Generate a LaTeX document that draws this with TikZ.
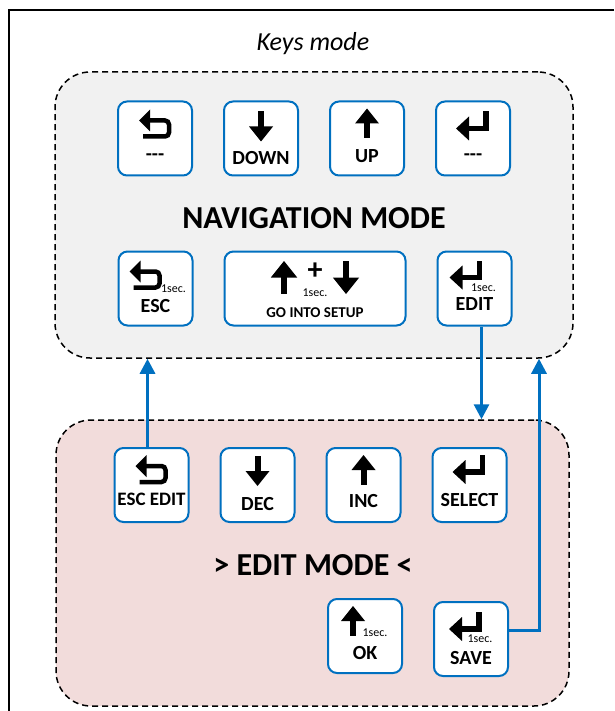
\documentclass[tikz,border=0pt]{standalone}
\usepackage{fontspec}
\setmainfont{Carlito}
\usepackage{tikz}
\usetikzlibrary{positioning, arrows.meta}
\definecolor{keyblue}{HTML}{0070C0}
\definecolor{navgray}{HTML}{F1F1F1}
\definecolor{editpink}{HTML}{F2DCDB}
\tikzset{
node distance=30pt, % gap between two keys of a row
key/.style={draw=keyblue, line width=2pt, rounded corners=9pt, fill=white, minimum width=74pt, minimum height=74pt}, % a key of the panel
keytext/.style={font=\bfseries\fontsize{20}{22}\selectfont, inner sep=0pt}, % text under a key symbol
sectext/.style={font=\fontsize{12}{13}\selectfont, inner sep=0pt}, % the 1sec. hint
region/.style={draw, dashed, dash pattern=on 6pt off 4pt, line width=1.5pt, rounded corners=35pt}, % dashed mode area
modetext/.style={font=\bfseries\fontsize{32}{35}\selectfont}, % name of a mode
link/.style={draw=keyblue, line width=3pt, -{Triangle[width=15pt,length=15pt]}}, % blue transition
backicon/.pic={
  \fill (-16,-5) -- (-5,-16) -- (-5,6) -- cycle;
  \draw[line width=4.5pt, rounded corners=4pt] (-6,-5) -- (14,-5) -- (14,11) -- (-12,11);
},
downicon/.pic={
  \fill (-3,-15) rectangle (3,1);
  \fill (-12,0) -- (12,0) -- (0,15) -- cycle;
},
upicon/.pic={
  \fill (-3,15) rectangle (3,-1);
  \fill (-12,0) -- (12,0) -- (0,-15) -- cycle;
},
entericon/.pic={
  \fill (-17,3) -- (-4,-9) -- (-4,15) -- cycle;
  \draw[line width=5.5pt] (-5,3) -- (13,3) -- (13,-14);
},
}

\begin{document}
\begin{tikzpicture}[x=1pt,y=-1pt]
\useasboundingbox (0,0) rectangle (614,711);
\draw[line width=2.5pt] (614,10) -- (9,10) -- (9,711);
\node[font=\itshape\fontsize{26}{30}\selectfont] (title) at (313,44) {Keys mode};

% the two mode areas
\node[region, fill=navgray, minimum width=518pt, minimum height=286pt] (nav) at (314,215) {};
\node[region, fill=editpink, minimum width=513pt, minimum height=286pt] (edit) at (312.5,563) {};
\node[modetext] (navname) at (314,218) {NAVIGATION MODE};
\node[modetext] (editname) at (313,565) {> EDIT MODE <};

% navigation mode keys
\node[key] (nback) at (155,138.5) {};
\node[key, right=of nback] (ndown) {};
\node[key, right=of ndown] (nup) {};
\node[key, right=of nup] (nenter) {};
\path (nback) ++(0,-13) pic {backicon};
\path (nback) ++(0,19) node[keytext] {{-}{-}{-}};
\path (ndown) ++(0,-12) pic {downicon};
\path (ndown) ++(0,20) node[keytext] {DOWN};
\path (nup) ++(0,-15) pic {upicon};
\path (nup) ++(0,18) node[keytext] {UP};
\path (nenter) ++(0,-13) pic {entericon};
\path (nenter) ++(0,19) node[keytext] {{-}{-}{-}};

\node[key] (nesc) at (155.5,288.5) {};
\node[key, minimum width=181pt, right=of nesc] (nsetup) {};
\node[key, right=of nsetup] (nedit) {};
\path (nesc) ++(-10,-12) pic {backicon};
\path (nesc) ++(18,0) node[sectext] {1sec.};
\path (nesc) ++(0,18) node[keytext] {ESC};
\path (nsetup) ++(-31,-11) pic[scale=1.1] {upicon};
\path (nsetup) ++(31,-11) pic[scale=1.1] {downicon};
\path (nsetup) ++(0,-17) node[font=\bfseries\fontsize{30}{30}\selectfont, inner sep=0pt] {+};
\path (nsetup) ++(0,4) node[sectext] {1sec.};
\path (nsetup) ++(0,24) node[keytext, font=\bfseries\fontsize{15}{17}\selectfont] {GO INTO SETUP};
\path (nedit) ++(-8,-14) pic {entericon};
\path (nedit) ++(9,-1) node[sectext] {1sec.};
\path (nedit) ++(0,16) node[keytext] {EDIT};

% edit mode keys
\node[key] (eback) at (151.5,485) {};
\node[key, right=of eback] (edown) {};
\node[key, right=of edown] (eup) {};
\node[key, right=of eup] (eenter) {};
\path (eback) ++(0,-14) pic {backicon};
\path (eback) ++(0,14) node[keytext, font=\bfseries\fontsize{19}{21}\selectfont] {ESC EDIT};
\path (edown) ++(0,-14) pic {downicon};
\path (edown) ++(0,19) node[keytext] {DEC};
\path (eup) ++(0,-15) pic {upicon};
\path (eup) ++(0,16) node[keytext] {INC};
\path (eenter) ++(0,-16) pic {entericon};
\path (eenter) ++(0,15) node[keytext] {SELECT};

\node[key] (esave) at (471,639) {};
\node[key, left=of esave, yshift=3pt] (eok) {};
\path (eok) ++(-12,-15) pic {upicon};
\path (eok) ++(10,-3) node[sectext] {1sec.};
\path (eok) ++(0,17) node[keytext] {OK};
\path (esave) ++(-5,-13) pic {entericon};
\path (esave) ++(9,0) node[sectext] {1sec.};
\path (esave) ++(0,19) node[keytext] {SAVE};

% transitions between the modes
\draw[link] ([xshift=-4pt]eback.north) -- ([xshift=-4pt]eback.north |- nav.south);
\draw[link] ([xshift=7pt]nedit.south) -- ([xshift=7pt]nedit.south |- edit.north);
\draw[link] ([yshift=9pt]esave.east) -- ++(30,0) coordinate (turn) -- (turn |- nav.south);
\end{tikzpicture}
\end{document}
